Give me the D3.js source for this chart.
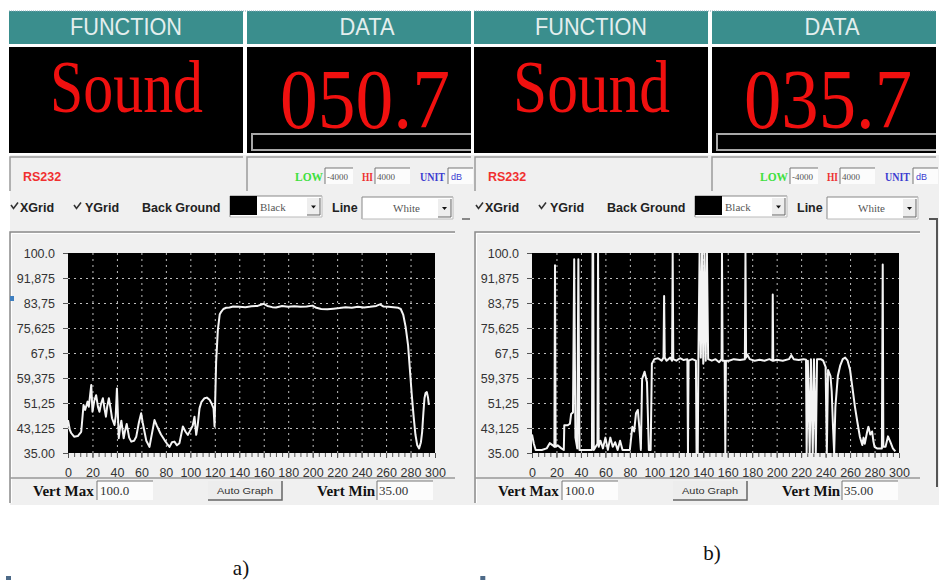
<!DOCTYPE html>
<html>
<head>
<meta charset="utf-8">
<script src="https://cdn.jsdelivr.net/npm/d3@7"></script>
<style>
body { margin: 0; background: #fff; }
svg { display: block; font-family: "Liberation Sans", Arial, sans-serif; }
</style>
</head>
<body>
<script>
var width = 939,
    height = 580;

// Graduations des axes
var xTicks = [0, 20, 40, 60, 80, 100, 120, 140, 160, 180, 200, 220, 240, 260, 280, 300];
var yTicks = [35, 43.125, 51.25, 59.375, 67.5, 75.625, 83.75, 91.875, 100];
var yTickLabels = ["35.00", "43,125", "51,25", "59,375", "67,5", "75,625", "83,75", "91,875", "100.0"];

// Textes des deux captures
var functionNames = ["Sound", "Sound"];
var dataReadings = ["050.7", "035.7"];
var panelLabels = ["a)", "b)"];

// Courbe a) (lue sur la capture)
var xA = [0, 1.5, 2.6, 5, 8, 10.8, 12.7, 14, 16, 17, 19, 20, 21.5, 23, 24.5, 25.7, 27, 28.5, 30, 31, 32, 33.4, 35, 36, 38, 39, 40, 41.5, 42.5, 43.6, 45.5, 46.5, 48, 50, 51.7, 54, 55.8, 58, 59.8, 61, 62.5, 64, 66.6, 68, 70.7, 72.5, 74.8, 76, 78.9, 81, 83, 85, 87, 89, 91.1, 93.9, 96, 98, 100.8, 102, 103.4, 104.8, 106, 107.5, 109, 111.6, 113.5, 115.7, 117.5, 119, 119.8, 120.5, 121.1, 122.5, 124, 125.2, 127, 129.3, 132, 135, 140, 145, 150, 155, 160, 163, 167, 170, 175, 180, 185, 190, 195, 200, 203, 207, 212, 217, 222, 227, 232, 237, 242, 247, 252, 255, 258, 262, 266, 270, 272, 274, 276, 278, 279.5, 281, 282.5, 284, 285.5, 287, 288.5, 289.5, 290.5, 291.4, 292.3, 293.3, 294.3, 295];
var yA = [45.7, 42.5, 41.5, 40.3, 40.5, 41.9, 50.6, 49, 51.7, 50, 57.1, 48.4, 52, 53.8, 50, 48.4, 51, 52.8, 49, 46.8, 50, 52.8, 49, 46.3, 44.1, 47, 56, 39.8, 43, 45.5, 39.8, 42, 44.4, 40, 38.7, 39, 40.3, 45, 47.9, 45, 42, 39, 37, 40, 45.7, 44, 42, 41, 39.2, 38, 37, 38.5, 38.7, 37.5, 38.2, 43.6, 42, 40.9, 43, 44, 46.8, 40.9, 44, 49.5, 51.5, 52.8, 53, 52.3, 51, 49.5, 43.6, 55, 64.7, 75, 80, 80.9, 81.8, 82.2, 82.3, 82.6, 82.5, 82.4, 82.7, 82.8, 83.5, 82.8, 82.4, 82.3, 82.8, 82.5, 82.7, 82.5, 82.6, 82.9, 82.2, 81.8, 81.7, 81.9, 82.1, 82.4, 82.2, 82.5, 82.3, 82.5, 82.8, 83.3, 82.6, 82.5, 82.4, 82.2, 81.8, 80, 76, 70, 62, 54, 47, 41, 37.5, 36.5, 38.5, 41.9, 48, 52.8, 54.5, 54.8, 53, 50.6];

// Courbe b) (lue sur la capture, pics compris)
var xB = [0, 1.5, 3, 8, 12, 14.5, 17, 18.3, 18.8, 19.3, 21, 24, 26, 26.4, 29, 31, 32, 33.5, 34.5, 35.5, 37, 37.9, 38.8, 42, 46, 49, 49.5, 50, 50.5, 53.5, 54, 54.5, 56, 58, 60, 62, 64, 66, 68, 70, 72, 74, 77, 80, 82, 83.5, 85, 86.5, 88, 89, 90, 92, 94, 95.5, 97, 98, 100, 103, 106, 107.5, 108, 108.5, 110, 113, 114.5, 115, 115.5, 118, 121, 124, 127, 127.5, 128, 131, 134, 134.5, 135.5, 136, 137, 138, 139, 140, 141, 142, 143, 144, 147, 150, 153, 155, 155.3, 155.8, 157.5, 158, 158.5, 161, 165, 170, 174, 174.5, 175, 176, 178, 182, 186, 190, 194, 196.5, 196.8, 197.2, 200, 205, 210, 212, 214, 218, 222, 224, 224.5, 225.5, 227, 228, 229.5, 230.5, 232, 233, 236, 238, 240, 241, 242, 244, 245, 246, 247, 248, 250, 252, 254, 256, 258, 260, 262, 264, 266, 268, 270, 271, 272, 274, 275, 276.5, 278, 279, 280, 282, 284, 286, 286.7, 287.2, 289, 291, 293, 295, 297];
var yB = [41, 38, 36, 36, 36.5, 38.2, 37.5, 37, 96, 37, 37.5, 36.5, 36, 44, 44, 44.5, 47.7, 48.2, 98, 40, 36.5, 98, 36, 36, 36, 36, 100, 100, 36, 38, 100, 37, 39, 36.5, 40, 36, 40, 37, 38.5, 36, 39, 36, 36, 36, 43.5, 42, 47.9, 49, 42, 36, 59, 61.4, 58, 36, 36, 64, 65.5, 65.8, 65, 66, 86, 66, 65, 66, 65, 100, 65.5, 65, 65.8, 65.2, 65.5, 35, 65, 65.5, 65, 35, 35, 65, 100, 66, 100, 64, 100, 65, 100, 65.5, 65, 65.5, 64.5, 65.5, 100, 65, 65, 35, 65, 65, 65.5, 65.2, 65.5, 100, 66, 67, 65.5, 65, 65.3, 65, 65.5, 65, 86.5, 65, 65.3, 65, 65.5, 66.8, 65.5, 65.2, 65.5, 65.3, 35, 65, 35, 65.5, 35, 65.5, 35, 65.5, 65.5, 65, 63, 35, 62, 60, 55, 44, 35, 50, 60, 63.5, 65.5, 66, 65, 62, 56, 50, 45, 40.3, 37.6, 40, 38, 42, 43.5, 41, 42, 39, 37, 36.5, 36.5, 36.5, 96.3, 37, 37, 40.4, 38.5, 36.5, 35.5];

var svg = d3.select("body").append("svg")
    .attr("width", width)
    .attr("height", height);

// fond gris clair des fenêtres
svg.append("rect").attr("x", 10).attr("y", 155).attr("width", width - 10).attr("height", 350).attr("fill", "#f0f0f0");

var panels = [
    {ox: 0, plotLeft: 68, xs: xA, ys: yA, fnX: 50, fnW: 153, rdX: 280, rdW: 170, lblX: 241, lblY: 575},
    {ox: 465, plotLeft: 532, xs: xB, ys: yB, fnX: 513, fnW: 157, rdX: 744, rdW: 168, lblX: 712, lblY: 560}
];

panels.forEach(function (p, i) {
    drawPanel(p, i);
});

function serifText(g, x, y, txt, size, color, bold) {
    return g.append("text").attr("x", x).attr("y", y)
        .attr("font-family", "'Liberation Serif', 'Times New Roman', serif")
        .attr("font-size", size)
        .attr("font-weight", bold ? "bold" : "normal")
        .attr("fill", color)
        .text(txt);
}

function inputBox(g, x, y, w, h) {
    g.append("rect").attr("x", x).attr("y", y).attr("width", w).attr("height", h).attr("fill", "#fcfcfc");
    g.append("path").attr("d", `M${x},${y + h} V${y} H${x + w}`).attr("fill", "none").attr("stroke", "#777").attr("stroke-width", 1);
}

function checkMark(g, x, y) {
    g.append("path").attr("d", `M${x},${y} l2.5,3.5 l4.5,-6`).attr("fill", "none").attr("stroke", "#333").attr("stroke-width", 1.6);
}

function dropDown(g, x, y, w, h, label, labelX) {
    g.append("rect").attr("x", x).attr("y", y).attr("width", w).attr("height", h).attr("fill", "#fff");
    g.append("path").attr("d", `M${x},${y + h} V${y} H${x + w}`).attr("fill", "none").attr("stroke", "#888");
    g.append("path").attr("d", `M${x},${y + h} H${x + w} V${y}`).attr("fill", "none").attr("stroke", "#bbb");
    g.append("rect").attr("x", x + w - 15).attr("y", y + 2).attr("width", 13).attr("height", h - 4).attr("fill", "#eee");
    g.append("path").attr("d", `M${x + w - 2},${y + 2} V${y + h - 2} H${x + w - 15}`).attr("fill", "none").attr("stroke", "#666");
    g.append("path").attr("d", `M${x + w - 11},${y + h / 2 - 1} h5 l-2.5,3 z`).attr("fill", "#111");
    serifText(g, labelX, y + h / 2 + 4, label, 11, "#555", false);
}

function drawPanel(p, i) {
    var ox = p.ox;
    var g = svg.append("g");

    // bandeaux FUNCTION / DATA
    var dataW = Math.min(224, width - (247 + ox));
    g.append("rect").attr("x", 9 + ox).attr("y", 11).attr("width", 234).attr("height", 33).attr("fill", "#3a8e8d");
    g.append("rect").attr("x", 247 + ox).attr("y", 11).attr("width", dataW).attr("height", 33).attr("fill", "#3a8e8d");
    g.append("line").attr("x1", 9 + ox).attr("x2", 247 + ox + dataW).attr("y1", 11).attr("y2", 11)
        .attr("stroke", "#8ab").attr("stroke-dasharray", "1,1");
    g.append("text").attr("x", 126 + ox).attr("y", 35).attr("text-anchor", "middle")
        .attr("font-size", 23).attr("fill", "#e4eeee").attr("textLength", 112).attr("lengthAdjust", "spacingAndGlyphs")
        .text("FUNCTION");
    g.append("text").attr("x", 367 + ox).attr("y", 35).attr("text-anchor", "middle")
        .attr("font-size", 23).attr("fill", "#e4eeee").attr("textLength", 55).attr("lengthAdjust", "spacingAndGlyphs")
        .text("DATA");

    // afficheurs noirs
    g.append("rect").attr("x", 9 + ox).attr("y", 47).attr("width", 234).attr("height", 106).attr("fill", "#000");
    g.append("rect").attr("x", 247 + ox).attr("y", 47).attr("width", dataW).attr("height", 106).attr("fill", "#000");
    serifText(g, p.fnX, 112, functionNames[i], 74, "#f0100f", false)
        .attr("textLength", p.fnW).attr("lengthAdjust", "spacingAndGlyphs");
    serifText(g, p.rdX, 128, dataReadings[i], 84, "#f0100f", false)
        .attr("textLength", p.rdW).attr("lengthAdjust", "spacingAndGlyphs");
    g.append("path").attr("d", `M${247 + ox + dataW},134 H${252 + ox} V150 H${247 + ox + dataW}`)
        .attr("fill", "none").attr("stroke", "#a8a8a8").attr("stroke-width", 2);

    // ligne RS232 / LOW HI UNIT
    g.append("path").attr("d", `M${10 + ox},191 V157 H${243 + ox} M${247 + ox},191 V157 H${247 + ox + dataW}`)
        .attr("fill", "none").attr("stroke", "#9a9a9a").attr("stroke-width", 1.5);
    g.append("text").attr("x", 23 + ox).attr("y", 181).attr("font-size", 12.5).attr("font-weight", "bold")
        .attr("fill", "#f03030").text("RS232");
    serifText(g, 295 + ox, 181, "LOW", 12, "#3ee03e", true).attr("textLength", 28).attr("lengthAdjust", "spacingAndGlyphs");
    inputBox(g, 325 + ox, 168, 28, 16);
    serifText(g, 327 + ox, 180, "-4000", 9, "#555", false);
    serifText(g, 362 + ox, 181, "HI", 12, "#ee3030", true).attr("textLength", 11).attr("lengthAdjust", "spacingAndGlyphs");
    inputBox(g, 375 + ox, 168, 35, 16);
    serifText(g, 377 + ox, 180, "4000", 9, "#555", false);
    serifText(g, 420 + ox, 181, "UNIT", 12, "#3c3cd0", true).attr("textLength", 25).attr("lengthAdjust", "spacingAndGlyphs");
    var uw = Math.min(25, width - (448 + ox));
    inputBox(g, 448 + ox, 168, uw, 16);
    g.append("text").attr("x", 451 + ox).attr("y", 180).attr("font-size", 9).attr("fill", "#3c3cd0").text("dB");

    // ligne des cases à cocher
    checkMark(g, 11 + ox, 205);
    g.append("text").attr("x", 20 + ox).attr("y", 212).attr("font-size", 12.5).attr("font-weight", "bold").attr("fill", "#222").text("XGrid");
    checkMark(g, 74 + ox, 205);
    g.append("text").attr("x", 85 + ox).attr("y", 212).attr("font-size", 12.5).attr("font-weight", "bold").attr("fill", "#222").text("YGrid");
    g.append("text").attr("x", 142 + ox).attr("y", 212).attr("font-size", 12.5).attr("font-weight", "bold").attr("fill", "#222").text("Back Ground");
    dropDown(g, 230 + ox, 196, 92, 21, "Black", 260 + ox);
    g.append("rect").attr("x", 230 + ox).attr("y", 196).attr("width", 27).attr("height", 19).attr("fill", "#000");
    g.append("text").attr("x", 332 + ox).attr("y", 212).attr("font-size", 12.5).attr("font-weight", "bold").attr("fill", "#222").text("Line");
    dropDown(g, 362 + ox, 197, 91, 22, "White", 393 + ox);

    // cadre du graphique
    g.append("path").attr("d", `M${10 + ox},503 V232 H${455 + ox}`).attr("fill", "none").attr("stroke", "#8a8a8a").attr("stroke-width", 1.5);
    g.append("path").attr("d", `M${11.5 + ox},503 V233.5 H${455 + ox}`).attr("fill", "none").attr("stroke", "#fff").attr("stroke-width", 1);

    var x = d3.scaleLinear().domain([0, 300]).range([p.plotLeft, p.plotLeft + 367]);
    var y = d3.scaleLinear().domain([35, 100]).range([453, 253]);

    g.append("rect").attr("x", x(0)).attr("y", y(100)).attr("width", x(300) - x(0)).attr("height", y(35) - y(100)).attr("fill", "#000");

    // grilles pointillées
    g.append("g").attr("transform", `translate(0,${y(35)})`)
        .call(d3.axisBottom(x).tickValues(xTicks.slice(1, -1)).tickSize(-(y(35) - y(100))).tickFormat(""))
        .call(a => a.select(".domain").remove())
        .call(a => a.selectAll("line").attr("stroke", "#bdbdbd").attr("stroke-dasharray", "2,4"));
    g.append("g").attr("transform", `translate(${x(0)},0)`)
        .call(d3.axisLeft(y).tickValues(yTicks.slice(1, -1)).tickSize(-(x(300) - x(0))).tickFormat(""))
        .call(a => a.select(".domain").remove())
        .call(a => a.selectAll("line").attr("stroke", "#bdbdbd").attr("stroke-dasharray", "2,4"));

    // axes
    g.append("g").attr("transform", `translate(0,${y(35)})`)
        .call(d3.axisBottom(x).tickValues(d3.range(0, 301, 5)).tickSize(4).tickFormat(""))
        .call(a => a.select(".domain").remove())
        .call(a => a.selectAll("line").attr("stroke", "#555"));
    g.append("g").attr("transform", `translate(0,${y(35)})`)
        .call(d3.axisBottom(x).tickValues(xTicks).tickSize(5).tickPadding(10))
        .call(a => a.select(".domain").remove())
        .call(a => a.selectAll("line").attr("stroke", "#555"))
        .call(a => a.selectAll("text").attr("font-size", 12.5).attr("fill", "#333")
            .attr("font-family", "'Liberation Sans', Arial, sans-serif"));
    g.append("g").attr("transform", `translate(${x(0)},0)`)
        .call(d3.axisLeft(y).tickValues(yTicks).tickSize(5).tickPadding(8).tickFormat((d, k) => yTickLabels[k]))
        .call(a => a.select(".domain").remove())
        .call(a => a.selectAll("line").attr("stroke", "#555"))
        .call(a => a.selectAll("text").attr("font-size", 12.5).attr("fill", "#333")
            .attr("font-family", "'Liberation Sans', Arial, sans-serif"));

    // courbe
    var pts = p.xs.map((v, k) => [v, p.ys[k]]);
    var line = d3.line().x(d => x(d[0])).y(d => y(d[1]));
    g.append("path").datum(pts).attr("d", line)
        .attr("fill", "none").attr("stroke", "#f4f4f4").attr("stroke-width", 2).attr("stroke-linejoin", "round");

    // barre du bas : Vert Max / Auto Graph / Vert Min
    g.append("line").attr("x1", 10 + ox).attr("x2", 455 + ox).attr("y1", 478).attr("y2", 478).attr("stroke", "#999").attr("stroke-width", 1.5);
    serifText(g, 33 + ox, 496, "Vert Max", 15, "#111", true);
    inputBox(g, 97 + ox, 481, 56, 19);
    serifText(g, 100 + ox, 495, "100.0", 13, "#333", false);
    g.append("rect").attr("x", 208 + ox).attr("y", 481).attr("width", 74).attr("height", 19).attr("fill", "#ededed");
    g.append("path").attr("d", `M${208 + ox},500 H${282 + ox} V481`).attr("fill", "none").attr("stroke", "#666").attr("stroke-width", 1.5);
    g.append("text").attr("x", 245 + ox).attr("y", 494).attr("text-anchor", "middle").attr("font-size", 9.5)
        .attr("fill", "#333").attr("textLength", 56).attr("lengthAdjust", "spacingAndGlyphs").text("Auto Graph");
    serifText(g, 317 + ox, 496, "Vert Min", 15, "#111", true);
    inputBox(g, 377 + ox, 481, 56, 19);
    serifText(g, 379 + ox, 495, "35.00", 13, "#333", false);

    // étiquette a) / b)
    serifText(g, p.lblX, p.lblY, panelLabels[i], 21, "#111", false).attr("text-anchor", "middle");
    g.append("rect").attr("x", 6 + ox * 1.02).attr("y", 576).attr("width", 5).attr("height", 4).attr("fill", "#4d6a88");
}

// petits détails d'interface
svg.append("rect").attr("x", 10).attr("y", 296).attr("width", 4).attr("height", 5).attr("fill", "#3f7fc0");
svg.append("path").attr("d", "M462,219 H470").attr("stroke", "#666").attr("stroke-width", 1.5);
svg.append("path").attr("d", "M929,219 H937 V487").attr("fill", "none").attr("stroke", "#555").attr("stroke-width", 2);
</script>
</body>
</html>
